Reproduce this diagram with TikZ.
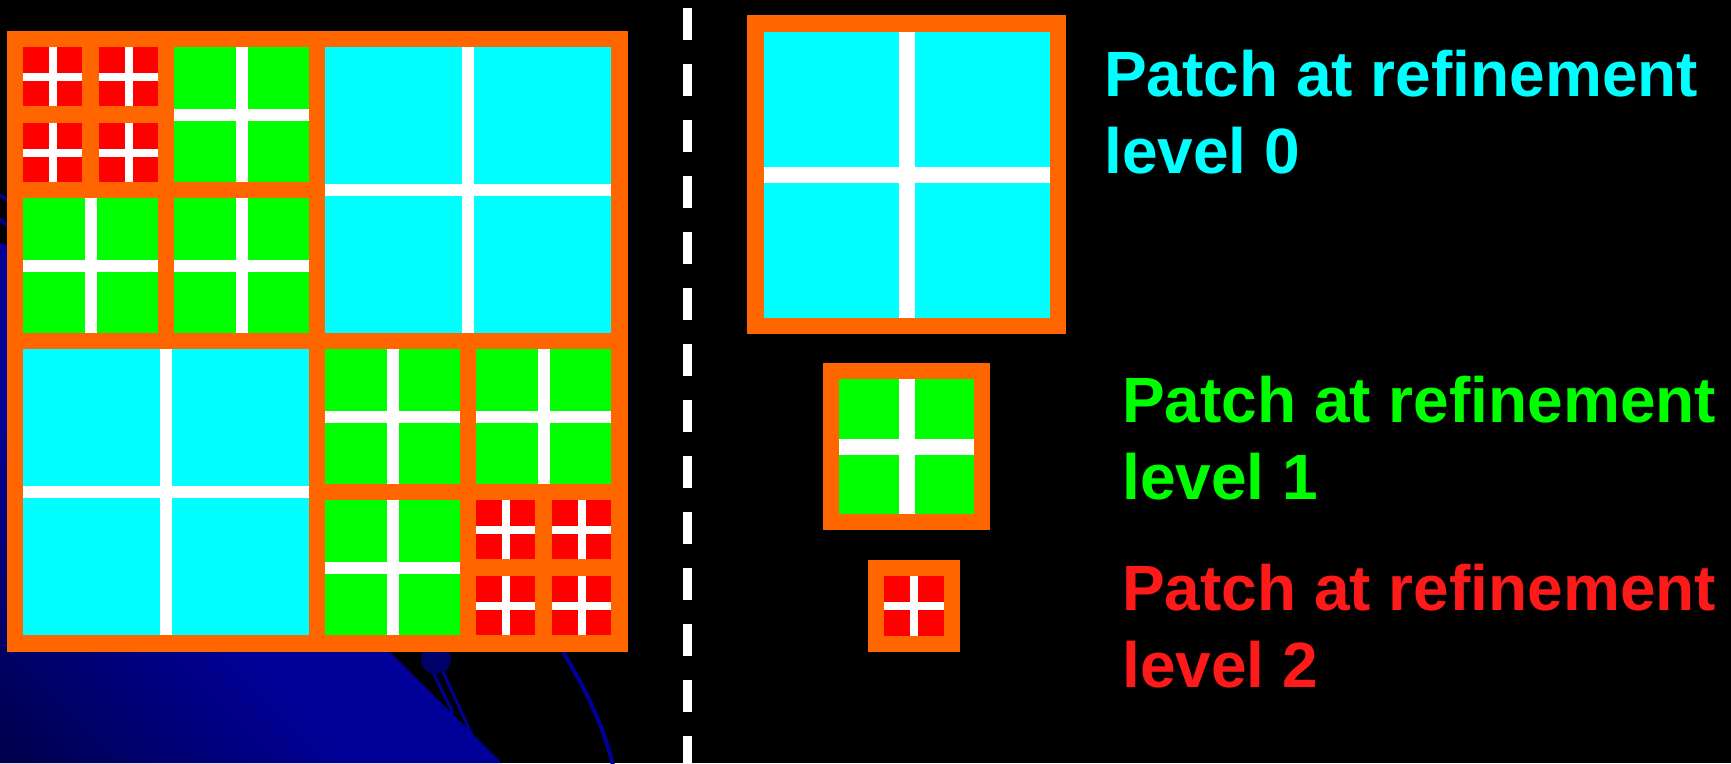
\documentclass[tikz,border=0pt]{standalone}
\usepackage{fontspec}
\setmainfont{Liberation Sans}
\definecolor{amrorange}{HTML}{FF6600}
\definecolor{amrcyan}{HTML}{00FFFF}
\definecolor{amrgreen}{HTML}{00FF00}
\definecolor{amrred}{HTML}{FF0000}
\definecolor{txtred}{HTML}{FF1A1A}
\definecolor{bgblue}{HTML}{000099}
\definecolor{bgnavy}{HTML}{000020}
\definecolor{ballblue}{HTML}{00006A}
\pgfdeclarehorizontalshading{bgshade}{100bp}{color(0bp)=(bgnavy); color(40bp)=(bgblue); color(100bp)=(bgblue)}
\newcommand\amrcell[5]{%
  \fill[#4] (#1,#2) rectangle ++(#3,#3);
  \fill[white] ({#1+#3/2-#5/2},#2) rectangle ++(#5,#3);
  \fill[white] (#1,{#2+#3/2-#5/2}) rectangle ++(#3,#5);
}
\begin{document}
\begin{tikzpicture}[x=1pt,y=-1pt,
  txt/.style={anchor=base west, inner sep=0pt, font=\fontsize{64}{77}\selectfont\bfseries},
  bgline/.style={draw=bgblue, line width=3.5pt}]
\useasboundingbox (0,0) rectangle (1731,763);
\fill[black] (0,0) rectangle (1731,763);
% background globe fragments
\shade[shading=bgshade, shading angle=45]
  (0,243) .. controls (200,300) and (300,560) .. (390,652) -- (502,763) -- (0,763) -- cycle;
\draw[bgline] (-2,194) -- (9,201);
\draw[bgline] (-2,217) -- (9,227);
\draw[bgline, line width=3pt] (433,672) -- (453,713);
\draw[bgline, line width=3pt] (443,672) -- (472,735);
\fill[ballblue] (436,659) circle (15);
\draw[bgline, line width=4pt] (563,652) .. controls (585,688) and (603,725) .. (613,765);
% big grid
\fill[amrorange] (7,31) rectangle (628,652);
\amrcell{23}{47}{59}{amrred}{8}
\amrcell{99}{47}{59}{amrred}{8}
\amrcell{23}{123}{59}{amrred}{8}
\amrcell{99}{123}{59}{amrred}{8}
\amrcell{174}{47}{135}{amrgreen}{12}
\amrcell{23}{198}{135}{amrgreen}{12}
\amrcell{174}{198}{135}{amrgreen}{12}
\amrcell{325}{47}{286}{amrcyan}{12}
\amrcell{23}{349}{286}{amrcyan}{12}
\amrcell{325}{349}{135}{amrgreen}{12}
\amrcell{476}{349}{135}{amrgreen}{12}
\amrcell{325}{500}{135}{amrgreen}{12}
\amrcell{476}{500}{59}{amrred}{8}
\amrcell{552}{500}{59}{amrred}{8}
\amrcell{476}{576}{59}{amrred}{8}
\amrcell{552}{576}{59}{amrred}{8}
% dashed separator
\draw[white, line width=9pt, dash pattern=on 32pt off 24pt] (687,8) -- (687,770);
% legend patches
\fill[amrorange] (747,15) rectangle (1066,334);
\amrcell{764}{32}{286}{amrcyan}{16}
\fill[amrorange] (823,363) rectangle (990,530);
\amrcell{839}{379}{135}{amrgreen}{16}
\fill[amrorange] (868,560) rectangle (960,652);
\amrcell{884}{576}{60}{amrred}{8}
% legend texts
\node[txt, text=amrcyan] (t0a) at (1104,96) {Patch at refinement};
\node[txt, text=amrcyan] (t0b) at (1104,173) {level 0};
\node[txt, text=amrgreen] (t1a) at (1122,422) {Patch at refinement};
\node[txt, text=amrgreen] (t1b) at (1122,499) {level 1};
\node[txt, text=txtred] (t2a) at (1122,610) {Patch at refinement};
\node[txt, text=txtred] (t2b) at (1122,687) {level 2};
\end{tikzpicture}
\end{document}
